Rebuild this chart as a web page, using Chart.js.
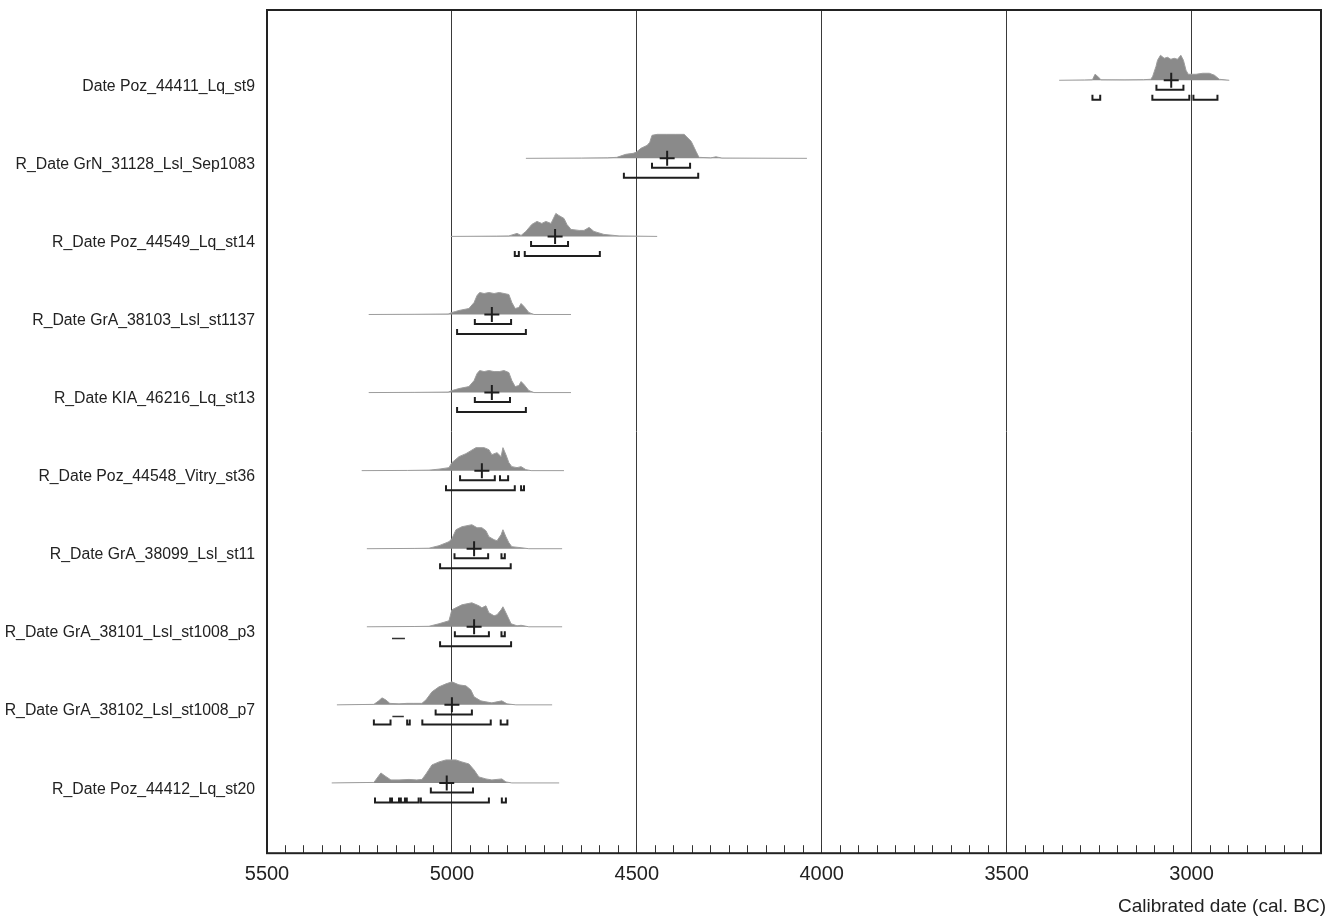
<!DOCTYPE html>
<html>
<head>
<meta charset="utf-8">
<script src="https://cdn.jsdelivr.net/npm/chart.js@4/dist/chart.umd.min.js"></script>
<style>
    html, body { margin: 0; padding: 0; background: #fff; }
    #contenedor { width: 1326px; height: 918px; }
</style>
</head>
<body>
<div id="contenedor"><canvas id="grafico"></canvas></div>
<script>
// nombres de las muestras (de arriba hacia abajo)
const etiquetasFilas = [
    'Date Poz_44411_Lq_st9',
    'R_Date GrN_31128_Lsl_Sep1083',
    'R_Date Poz_44549_Lq_st14',
    'R_Date GrA_38103_Lsl_st1137',
    'R_Date KIA_46216_Lq_st13',
    'R_Date Poz_44548_Vitry_st36',
    'R_Date GrA_38099_Lsl_st11',
    'R_Date GrA_38101_Lsl_st1008_p3',
    'R_Date GrA_38102_Lsl_st1008_p7',
    'R_Date Poz_44412_Lq_st20'
]

// distribuciones de probabilidad [año cal BC, probabilidad relativa]
const distPoz44411 = [[3358, 0], [3290, 0.3], [3268, 0.5], [3261, 6], [3254, 4], [3245, 0.5], [3180, 0.4], [3130, 0.6],
    [3110, 1], [3105, 4], [3096, 14], [3092, 20], [3084, 25], [3074, 22], [3065, 23], [3056, 21], [3047, 22], [3038, 21],
    [3029, 25], [3022, 20], [3015, 10], [3009, 6], [2998, 6], [2988, 6], [2970, 7], [2952, 7], [2938, 5], [2925, 1], [2898, 0]]
const distGrN31128 = [[4800, 0], [4650, 0.3], [4580, 0.5], [4554, 1], [4530, 4], [4510, 5], [4502, 6], [4489, 10], [4472, 13],
    [4465, 16], [4459, 23], [4445, 24], [4420, 24], [4395, 24], [4372, 24], [4353, 17], [4340, 7], [4332, 1], [4300, 0.5],
    [4286, 1.5], [4270, 0.3], [4040, 0]]
const distPoz44549 = [[5003, 0], [4880, 0.3], [4846, 0.5], [4824, 3], [4813, 1], [4800, 5], [4784, 12], [4770, 15], [4757, 13],
    [4746, 15], [4732, 13], [4719, 23], [4711, 21], [4697, 18], [4689, 12], [4678, 7], [4656, 6], [4643, 6], [4629, 9],
    [4616, 5], [4589, 2], [4548, 0.5], [4445, 0]]
const distGrA38103 = [[5225, 0], [5100, 0.2], [5010, 0.5], [5000, 2], [4990, 3], [4981, 4], [4954, 6], [4940, 12], [4932, 19],
    [4925, 22], [4913, 21], [4900, 22], [4886, 21], [4872, 22], [4859, 21], [4846, 20], [4838, 12], [4829, 6], [4819, 7],
    [4813, 11], [4805, 8], [4792, 2], [4778, 0], [4678, 0]]
const distKIA46216 = [[5225, 0], [5100, 0.2], [5010, 0.5], [5000, 2], [4990, 3], [4981, 4], [4954, 6], [4940, 12], [4932, 19],
    [4925, 22], [4913, 21], [4900, 22], [4886, 21], [4872, 21], [4859, 22], [4846, 20], [4838, 12], [4829, 6], [4819, 7],
    [4813, 11], [4805, 8], [4792, 2], [4778, 0], [4678, 0]]
const distPoz44548 = [[5244, 0], [5120, 0.2], [5062, 0.5], [5035, 1.5], [5008, 3], [5000, 8], [4981, 14], [4962, 17],
    [4935, 23], [4913, 23], [4900, 21], [4892, 16], [4878, 18], [4867, 14], [4862, 23], [4854, 16], [4846, 8], [4838, 4],
    [4824, 3], [4813, 4], [4800, 1], [4786, 0], [4697, 0]]
const distGrA38099 = [[5230, 0], [5100, 0.3], [5062, 0.5], [5035, 3], [5008, 7], [5000, 10], [4989, 19], [4973, 22],
    [4946, 24], [4932, 21], [4919, 21], [4908, 18], [4900, 12], [4886, 9], [4878, 8], [4867, 14], [4862, 19], [4854, 12],
    [4846, 6], [4838, 2], [4813, 1], [4792, 0], [4702, 0]]
const distGrA38101 = [[5230, 0], [5100, 0.3], [5062, 0.5], [5035, 3], [5008, 6], [5000, 17], [4973, 22], [4946, 24],
    [4927, 21], [4919, 19], [4908, 21], [4900, 14], [4886, 11], [4878, 12], [4867, 17], [4862, 20], [4854, 14], [4840, 3],
    [4824, 1], [4813, 1.5], [4792, 0], [4702, 0]]
const distGrA38102 = [[5311, 0], [5211, 0.5], [5198, 4], [5189, 7], [5179, 5], [5168, 1.5], [5143, 1], [5122, 1.5],
    [5103, 1.5], [5081, 1.5], [5070, 5], [5054, 13], [5035, 18], [5016, 21], [5000, 23], [4981, 20], [4962, 19], [4949, 15],
    [4940, 8], [4922, 4], [4908, 3], [4892, 2], [4865, 4], [4851, 1], [4827, 0], [4729, 0]]
const distPoz44412 = [[5325, 0], [5211, 0.5], [5200, 6], [5192, 10], [5181, 7], [5165, 3], [5143, 3], [5116, 3.5],
    [5095, 3], [5081, 3.5], [5070, 9], [5054, 18], [5035, 21], [5016, 23], [4989, 23], [4973, 21], [4954, 19], [4940, 13],
    [4927, 6], [4908, 4], [4892, 3], [4865, 4], [4854, 1], [4838, 0], [4710, 0]]

const distribuciones = [distPoz44411, distGrN31128, distPoz44549, distGrA38103, distKIA46216,
    distPoz44548, distGrA38099, distGrA38101, distGrA38102, distPoz44412]

// medianas (cruz)
const medianas = [3055, 4418, 4721, 4892, 4892, 4919, 4940, 4940, 5000, 5014]

// rangos 68.2% y 95.4%
const rangos68 = [
    [[3095, 3022]],
    [[4459, 4356]],
    [[4786, 4686]],
    [[4938, 4840]],
    [[4938, 4843]],
    [[4978, 4884], [4870, 4848]],
    [[4993, 4902], [4866, 4857]],
    [[4992, 4900], [4866, 4857]],
    [[5044, 4946]],
    [[5057, 4943]]
]
const rangos95 = [
    [[3268, 3247], [3106, 3006], [2995, 2930]],
    [[4535, 4334]],
    [[4830, 4819], [4803, 4600]],
    [[4986, 4800]],
    [[4986, 4800]],
    [[5016, 4830], [4813, 4805]],
    [[5032, 4841]],
    [[5032, 4840]],
    [[5211, 5166], [5121, 5114], [5080, 4895], [4868, 4850]],
    [[5208, 5167], [5162, 5143], [5138, 5127], [5122, 5090], [5084, 4900], [4865, 4854]]
]
// tramos sueltos sin corchete
const rangosSueltos = [[], [], [], [], [], [], [], [[5162, 5127]], [[5161, 5130]], []]

const aniosPrincipales = [5500, 5000, 4500, 4000, 3500, 3000]

const PROB_MAX = 25
const ALTO_PICO = 0.32
const NIVEL_68 = 0.122
const NIVEL_95 = 0.25
const NIVEL_SUELTO = 0.15
const PATITA = 0.064
const COLOR_TINTA = '#1e1e1e'
const FUENTE = 'Liberation Sans, Arial, sans-serif'

const esPrincipal = (v) => aniosPrincipales.some(a => Math.abs(a - v) < 1)

// armar los puntos de un corchete con huecos entre rangos
const puntosCorchete = (rangos, fila, nivel, patita) => {
    const puntos = []
    rangos.forEach(([a, b]) => {
        puntos.push({ x: a, y: fila + nivel - patita })
        puntos.push({ x: a, y: fila + nivel })
        puntos.push({ x: b, y: fila + nivel })
        puntos.push({ x: b, y: fila + nivel - patita })
        puntos.push({ x: b, y: null })
    })
    return puntos
}

const datasets = []

// cruces de la mediana arriba de todo
datasets.push({
    data: medianas.map((m, fila) => ({ x: m, y: fila })),
    order: 1,
    showLine: false,
    pointStyle: 'cross',
    pointRadius: 7.5,
    pointBorderWidth: 2,
    pointBorderColor: COLOR_TINTA,
    borderColor: COLOR_TINTA
})

etiquetasFilas.forEach((_, fila) => {
    datasets.push({
        data: puntosCorchete(rangos68[fila], fila, NIVEL_68, PATITA),
        order: 2,
        borderColor: COLOR_TINTA,
        borderWidth: 2,
        pointRadius: 0,
        fill: false,
        spanGaps: false
    })
    datasets.push({
        data: puntosCorchete(rangos95[fila], fila, NIVEL_95, PATITA),
        order: 2,
        borderColor: COLOR_TINTA,
        borderWidth: 2,
        pointRadius: 0,
        fill: false,
        spanGaps: false
    })
    if (rangosSueltos[fila].length) {
        datasets.push({
            data: puntosCorchete(rangosSueltos[fila], fila, NIVEL_SUELTO, 0),
            order: 2,
            borderColor: '#333',
            borderWidth: 1.5,
            pointRadius: 0,
            fill: false,
            spanGaps: false
        })
    }
})

distribuciones.forEach((dist, fila) => {
    datasets.push({
        data: dist.map(([anio, p]) => ({ x: anio, y: fila - p / PROB_MAX * ALTO_PICO })),
        order: 3,
        borderColor: '#9c9c9c',
        borderWidth: 1,
        backgroundColor: '#8a8a8a',
        fill: { value: fila },
        pointRadius: 0,
        tension: 0
    })
})

// marco alrededor del area del grafico
const marco = {
    id: 'marco',
    afterDraw: (chart) => {
        const { ctx, chartArea } = chart
        ctx.save()
        ctx.strokeStyle = '#222'
        ctx.lineWidth = 2
        ctx.strokeRect(chartArea.left, chartArea.top, chartArea.right - chartArea.left, chartArea.bottom - chartArea.top)
        ctx.restore()
    }
}

new Chart(document.getElementById('grafico'), {
    type: 'line',
    data: { datasets },
    plugins: [marco],
    options: {
        responsive: true,
        maintainAspectRatio: false,
        animation: false,
        layout: { autoPadding: false, padding: { top: 10, right: 0, left: 0, bottom: 0 } },
        plugins: {
            legend: { display: false },
            tooltip: { enabled: false },
            title: {
                display: true,
                position: 'bottom',
                align: 'end',
                text: 'Calibrated date (cal. BC)',
                color: '#222',
                font: { family: FUENTE, size: 19, weight: 'normal' },
                padding: { top: 0, bottom: 0 }
            }
        },
        scales: {
            x: {
                type: 'linear',
                position: 'bottom',
                reverse: true,
                min: 2650,
                max: 5500,
                afterFit: (scale) => {
                    scale.height = 42
                    scale.paddingLeft = 0
                    scale.paddingRight = 5
                },
                ticks: {
                    stepSize: 50,
                    autoSkip: false,
                    includeBounds: false,
                    maxRotation: 0,
                    padding: 17,
                    color: '#222',
                    font: { family: FUENTE, size: 20 },
                    callback: (v) => esPrincipal(v) ? String(Math.round(v)) : ''
                },
                grid: {
                    drawTicks: true,
                    tickLength: -8,
                    lineWidth: 1,
                    color: (ctx) => (ctx.tick && esPrincipal(ctx.tick.value)) ? '#3a3a3a' : 'rgba(0,0,0,0)',
                    tickColor: '#333'
                },
                border: { display: false }
            },
            y: {
                type: 'linear',
                reverse: true,
                min: -0.9,
                max: 9.9,
                afterFit: (scale) => {
                    scale.width = 267
                    scale.paddingTop = 0
                    scale.paddingBottom = 0
                },
                afterBuildTicks: (scale) => {
                    scale.ticks = etiquetasFilas.map((_, i) => ({ value: i + 0.08 }))
                },
                ticks: {
                    autoSkip: false,
                    padding: 12,
                    color: '#222',
                    font: { family: FUENTE, size: 15.8 },
                    callback: (v, i) => etiquetasFilas[i]
                },
                grid: { display: false, drawTicks: false },
                border: { display: false }
            }
        }
    }
})
</script>
</body>
</html>
